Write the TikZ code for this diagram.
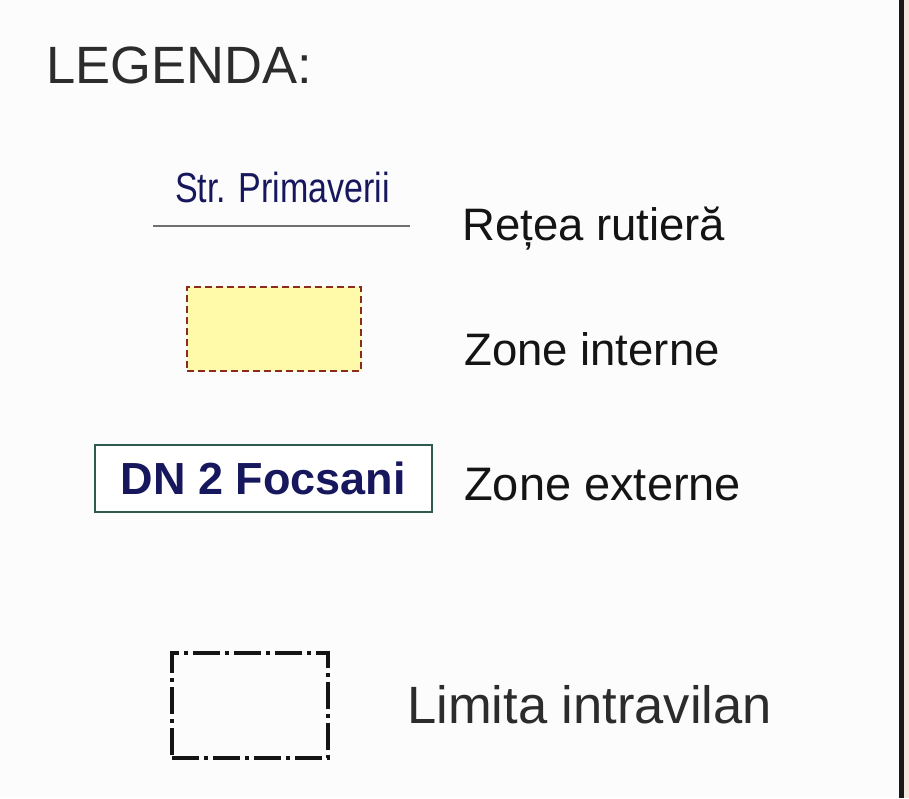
\documentclass[tikz,border=0pt]{standalone}
\usepackage{fontspec}
\setmainfont{Liberation Sans}
\definecolor{bgc}{HTML}{FCFCFC}
\definecolor{txtc}{HTML}{141414}
\definecolor{navyc}{HTML}{17175E}
\definecolor{roadc}{HTML}{707070}
\definecolor{yelc}{HTML}{FFFAAA}
\definecolor{redc}{HTML}{8B2A1E}
\definecolor{tealc}{HTML}{2E5A50}
\definecolor{peachc}{HTML}{F5E6DC}
\begin{document}
\begin{tikzpicture}[x=1pt,y=-1pt,
  lbl/.style={anchor=base west,inner sep=0pt,text=txtc},
  big/.style={font=\fontsize{52.5}{60}\selectfont},
  mid/.style={font=\fontsize{45.5}{52}\selectfont},
]
\fill[bgc] (0,0) rectangle (909,798);
\useasboundingbox (0,0) rectangle (909,798);
% right border
\fill[peachc] (904,0) rectangle (909,798);
\draw[line width=5pt,black!90] (901.5,0) -- (901.5,798);

\node[lbl,big,text=txtc!90] (title) at (46,83) {LEGENDA:};

% road
\node[lbl,text=navyc] (strname) at (175,202) {\fontsize{42}{48}\selectfont\scalebox{0.81}[1]{Str. Primaverii}};
\coordinate (roadA) at (153,226);
\coordinate (roadB) at (410,226);
\draw[roadc,line width=2pt] (roadA) -- (roadB);
\node[lbl,mid] (retea) at (462,240) {Rețea rutieră};

% internal zones
\node[draw=redc,fill=yelc,line width=2.6pt,dash pattern=on 7pt off 4pt,
  minimum width=174pt,minimum height=84pt,inner sep=0pt] (zint) at (274,329) {};
\node[lbl,mid] (zinttxt) at (464,365) {Zone interne};

% external zones
\node[draw=tealc,line width=2pt,fill=white,minimum width=337pt,minimum height=67pt,
  inner sep=0pt,text=navyc,font=\bfseries\fontsize{45}{52}\selectfont] (zext) at (263.5,478.5) {DN 2 Focsani};
\node[lbl,mid,font=\fontsize{47}{54}\selectfont] (zexttxt) at (464,500) {Zone externe};

% intravilan limit
\node[draw=txtc,line width=3.8pt,dash pattern=on 27pt off 5pt on 4pt off 5pt,
  minimum width=156pt,minimum height=105pt,inner sep=0pt] (lim) at (250,705.5) {};
\node[lbl,big,text=txtc!90] (limtxt) at (407,723) {Limita intravilan};
\end{tikzpicture}
\end{document}
